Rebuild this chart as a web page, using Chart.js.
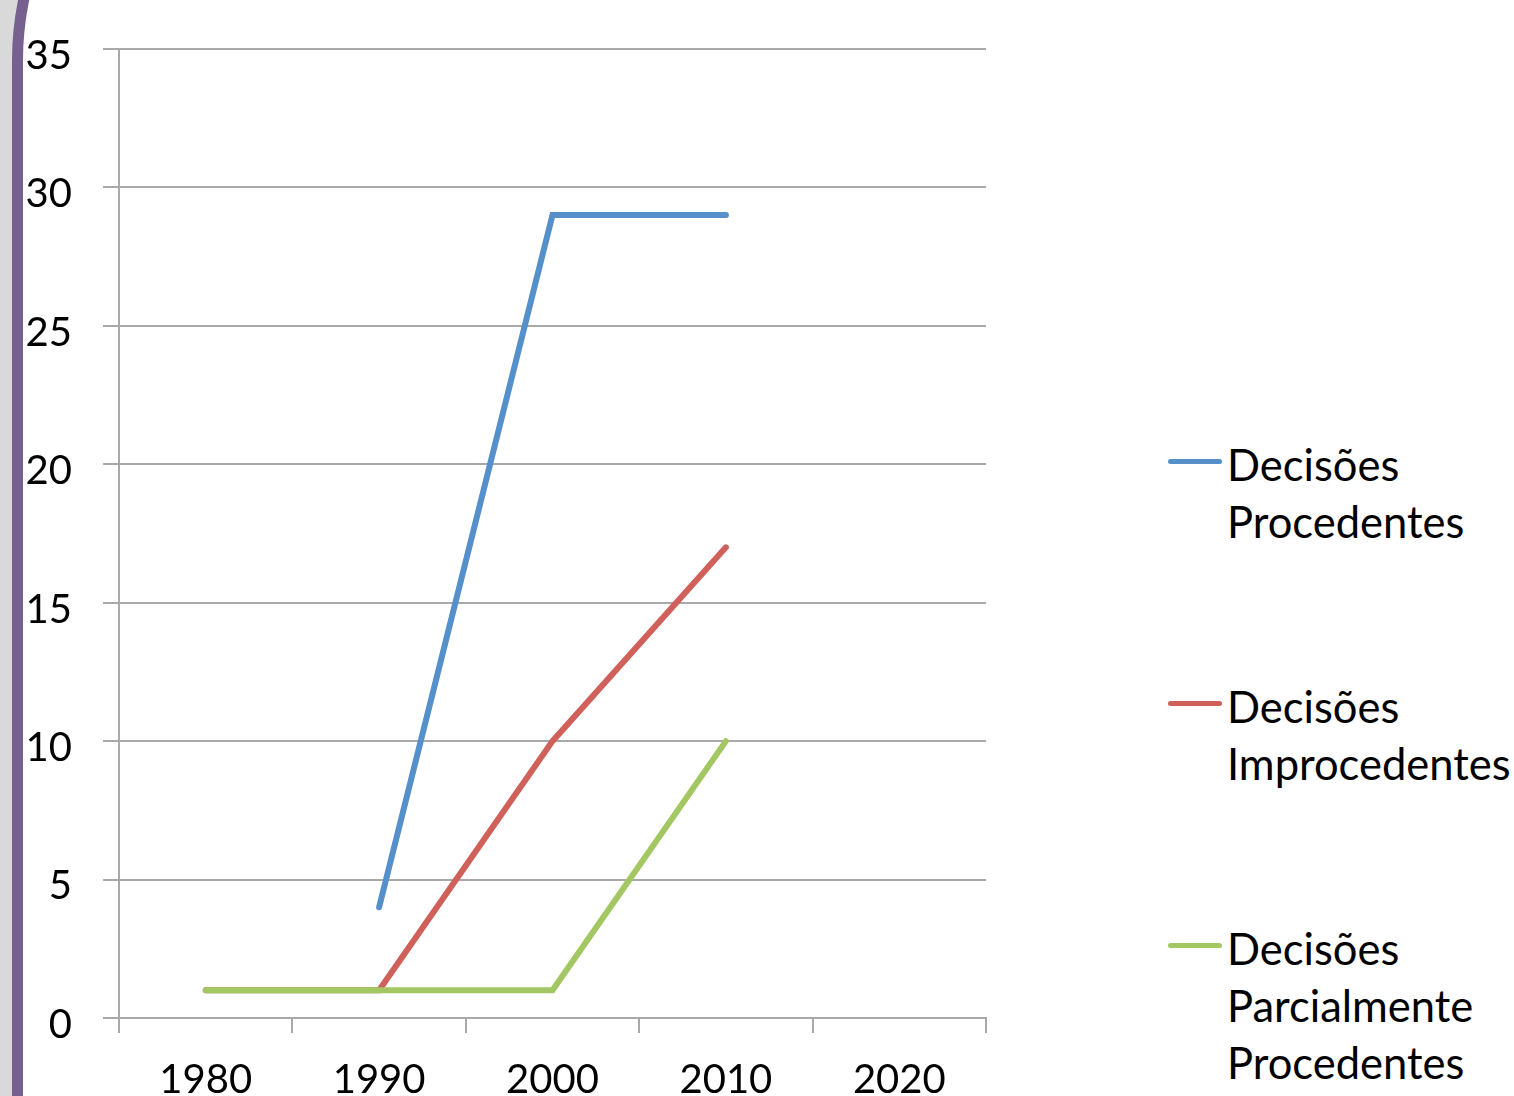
<!DOCTYPE html>
<html>
<head>
<meta charset="utf-8">
<title>Decisões por década</title>
<script src="https://cdn.jsdelivr.net/npm/chart.js@4.4.1/dist/chart.umd.min.js"></script>
<style>
  html, body { margin: 0; padding: 0; width: 1514px; height: 1096px; overflow: hidden; background: #d9d9d9; }
  #slide { position: absolute; left: 12px; top: -240px; width: 2000px; height: 2000px; background: #fff;
           border-left: 11px solid #76608f; border-top: 11px solid #76608f; border-top-left-radius: 300px; }
  #wrap { position: absolute; left: 0; top: 0; width: 1000px; height: 1150px; }
  #legend { position: absolute; left: 1168px; top: 436px; font-family: Lato, sans-serif; font-size: 43.5px;
            line-height: 57px; color: #000; }
  .item { position: relative; padding-left: 59px; width: 290px; margin-bottom: 128px; }
  .swatch { position: absolute; left: 0; top: 23px; width: 54px; height: 5px; border-radius: 3px; }
</style>
</head>
<body>
<div id="slide"></div>
<div id="wrap"><canvas id="chart"></canvas></div>
<div id="legend"></div>
<script>
// Decades on the category axis
const categories = ['1980', '1990', '2000', '2010', '2020'];

// Number of decisions per decade
const procedentes   = [null, 4, 29, 29, null];
const improcedentes = [1, 1, 10, 17, null];
const parcialmente  = [1, 1, 1, 10, null];

// Value axis range
const yMin = 0;
const yMax = 35;
const yStep = 5;

const seriesNames  = ['Decisões Procedentes', 'Decisões Improcedentes', 'Decisões Parcialmente Procedentes'];
const seriesColors = ['#5590ca', '#d0605a', '#a3c762'];
const seriesValues = [procedentes, improcedentes, parcialmente];

const gridColor = '#a9a9a9';

function build() {
  Chart.defaults.font.family = 'Lato, sans-serif';

  const datasets = seriesValues.map((vals, i) => ({
    label: seriesNames[i],
    data: vals,
    borderColor: seriesColors[i],
    backgroundColor: seriesColors[i],
    borderWidth: 6,
    borderCapStyle: 'round',
    borderJoinStyle: 'miter',
    pointRadius: 0,
    pointHoverRadius: 0,
    tension: 0,
    fill: false,
    order: seriesValues.length - i   // later series are painted on top
  }));

  const chart = new Chart(document.getElementById('chart'), {
    type: 'line',
    data: { labels: categories, datasets },
    options: {
      responsive: true,
      maintainAspectRatio: false,
      animation: false,
      layout: { padding: { top: 49, right: 14, bottom: 0, left: 0 } },
      plugins: { legend: { display: false }, tooltip: { enabled: false } },
      scales: {
        x: {
          type: 'category',
          offset: true,
          grid: { offset: true, drawOnChartArea: false, drawTicks: true, tickLength: 15,
                  color: gridColor, lineWidth: 2 },
          border: { display: true, color: gridColor, width: 2 },
          ticks: { color: '#000', font: { size: 40 }, padding: 23, maxRotation: 0, autoSkip: false },
          afterFit: (s) => { s.height = 132; }
        },
        y: {
          min: yMin,
          max: yMax,
          grid: { drawTicks: true, tickLength: 16, color: gridColor, lineWidth: 2 },
          border: { display: true, color: gridColor, width: 2 },
          ticks: { stepSize: yStep, color: '#000', font: { size: 40 }, padding: 31, labelOffset: 7 },
          afterFit: (s) => { s.width = 119; s.paddingTop = 0; s.paddingBottom = 0; }
        }
      }
    }
  });

  // Legend built as HTML so the labels can wrap over several lines
  const legend = document.getElementById('legend');
  chart.data.datasets.forEach((ds) => {
    const item = document.createElement('div');
    item.className = 'item';
    const sw = document.createElement('span');
    sw.className = 'swatch';
    sw.style.background = ds.borderColor;
    item.appendChild(sw);
    item.appendChild(document.createTextNode(ds.label));
    legend.appendChild(item);
  });
}

if (document.fonts && document.fonts.load) {
  document.fonts.load('40px Lato').then(build, build);
} else {
  build();
}
</script>
</body>
</html>
